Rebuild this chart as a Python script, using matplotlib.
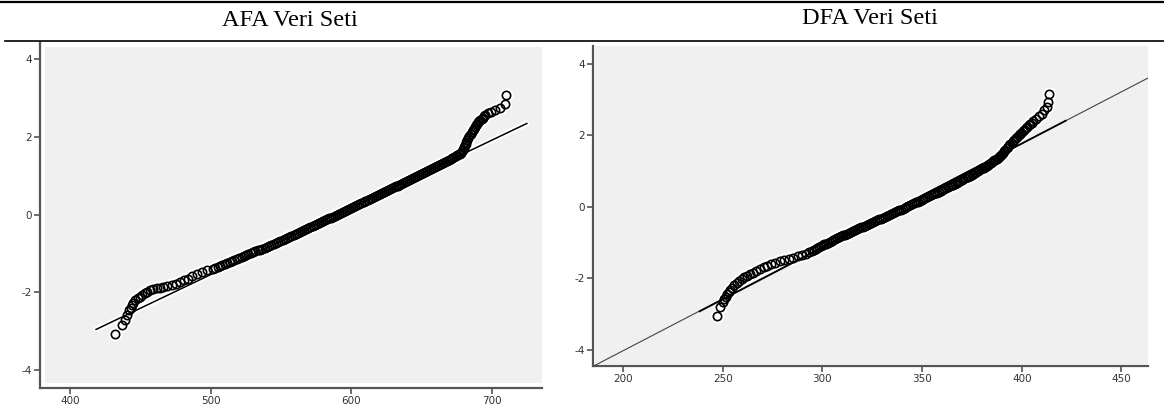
import matplotlib
matplotlib.use("Agg")
import matplotlib.pyplot as plt
from matplotlib.lines import Line2D
from matplotlib.patches import Rectangle

plt.rcParams['axes.unicode_minus'] = False

# ---------------- data ----------------
titles = ["AFA Veri Seti", "DFA Veri Seti"]

# AFA: observed values (x) and expected normal values (y)
afa_obs = [432.0, 436.7, 439.1, 440.7, 442.0, 443.0, 443.9, 445.0, 446.2, 448.0,
           449.8, 451.5, 453.3, 455.0, 456.9, 459.3, 461.7, 464.0, 466.4, 469.3,
           472.3, 475.3, 478.3, 481.2, 484.2, 487.1, 490.1, 493.6, 497.2,
           501.5, 503.2, 505.0, 506.7, 508.4, 510.1, 511.8, 513.5, 515.2, 516.9,
           518.6, 520.3, 522.0, 523.6, 525.3, 526.9, 528.6, 530.2, 531.9, 533.5,
           535.2, 536.8, 538.5, 540.1, 541.7, 543.3, 544.9, 546.5, 548.1, 549.7,
           551.3, 552.8, 554.4, 555.9, 557.5, 559.0, 560.6, 562.1, 563.6, 565.1,
           566.6, 568.1, 569.6, 571.0, 572.5, 574.0, 575.4, 576.9, 578.3, 579.8,
           581.2, 582.7, 584.1, 585.6, 587.0, 588.5, 589.9, 591.4, 592.8, 594.3,
           595.7, 597.2, 598.6, 600.1, 601.5, 603.0, 604.4, 605.9, 607.3, 608.8,
           610.2, 611.7, 613.1, 614.6, 616.0, 617.5, 618.9, 620.4, 621.8, 623.2,
           624.6, 626.0, 627.4, 628.8, 630.2, 631.6, 633.0, 634.4, 635.8, 637.2,
           638.6, 640.0, 641.4, 642.8, 644.2, 645.6, 647.0, 648.4, 649.8, 651.2,
           652.6, 654.0, 655.4, 656.8, 658.2, 659.6, 661.0, 662.4, 663.8, 665.2,
           666.6, 668.0, 669.4, 670.7, 672.0, 673.3, 674.5, 675.6, 676.6, 677.5,
           678.3,
           678.9, 679.5, 680.0, 680.5, 681.0, 681.5, 682.0, 682.5, 683.3, 684.2,
           685.1, 686.0, 686.6, 687.2, 687.8, 688.5, 689.2, 690.0, 691.0, 692.0,
           692.8, 693.7, 694.6, 695.5, 697.3, 699.2, 702.5, 706.0, 709.6, 710.5]
afa_exp = [-3.08, -2.85, -2.72, -2.59, -2.46, -2.40, -2.33, -2.27, -2.20, -2.16,
           -2.12, -2.07, -2.03, -1.99, -1.95, -1.92, -1.90, -1.88, -1.86, -1.84,
           -1.82, -1.78, -1.73, -1.69, -1.65, -1.58, -1.52, -1.48, -1.43,
           -1.400, -1.375, -1.350, -1.325, -1.300, -1.275, -1.250, -1.225, -1.200, -1.175,
           -1.150, -1.125, -1.100, -1.075, -1.050, -1.025, -1.000, -0.975, -0.950, -0.925,
           -0.900, -0.875, -0.850, -0.825, -0.800, -0.775, -0.750, -0.725, -0.700, -0.675,
           -0.650, -0.625, -0.600, -0.575, -0.550, -0.525, -0.500, -0.475, -0.450, -0.425,
           -0.400, -0.375, -0.350, -0.325, -0.300, -0.275, -0.250, -0.225, -0.200, -0.175,
           -0.150, -0.125, -0.100, -0.075, -0.050, -0.025, 0.000, 0.025, 0.050, 0.075,
           0.100, 0.125, 0.150, 0.175, 0.200, 0.225, 0.250, 0.275, 0.300, 0.325,
           0.350, 0.375, 0.400, 0.425, 0.450, 0.475, 0.500, 0.525, 0.550, 0.575,
           0.600, 0.625, 0.650, 0.675, 0.700, 0.725, 0.750, 0.775, 0.800, 0.825,
           0.850, 0.875, 0.900, 0.925, 0.950, 0.975, 1.000, 1.025, 1.050, 1.075,
           1.100, 1.125, 1.150, 1.175, 1.200, 1.225, 1.250, 1.275, 1.300, 1.325,
           1.350, 1.375, 1.400, 1.425, 1.450, 1.475, 1.500, 1.525, 1.550, 1.575,
           1.600,
           1.635, 1.67, 1.71, 1.75, 1.79, 1.83, 1.875, 1.92, 1.97, 2.02,
           2.075, 2.13, 2.175, 2.22, 2.265, 2.31, 2.345, 2.38, 2.41, 2.44,
           2.47, 2.50, 2.53, 2.56, 2.61, 2.65, 2.69, 2.74, 2.84, 3.08]
afa_line_x = [418.5, 725.0]
afa_line_y = [-2.96, 2.35]

# DFA: observed values (x) and expected normal values (y)
dfa_obs = [247.3, 248.5, 250.0, 250.8, 251.5, 252.2, 253.0, 253.9, 254.8, 255.9,
           257.0, 258.2, 259.5, 260.7, 262.0, 263.5, 265.0, 266.7, 268.5, 270.5,
           272.5, 274.5, 276.5, 278.7, 281.0, 283.2, 285.5, 287.8, 290.0, 291.8,
           293.5, 294.7,
           295.8, 296.6, 297.5, 298.3, 299.2, 300.1, 301.0, 301.9, 302.8, 303.7,
           304.6, 305.5, 306.5, 307.4, 308.4, 309.3, 310.3, 311.2, 312.2, 313.2,
           314.2, 315.2, 316.2, 317.2, 318.2, 319.2, 320.2, 321.2, 322.2, 323.2,
           324.2, 325.2, 326.2, 327.2, 328.2, 329.2, 330.2, 331.2, 332.2, 333.2,
           334.2, 335.2, 336.2, 337.2, 338.2, 339.2, 340.2, 341.2, 342.2, 343.1,
           344.1, 345.0, 346.0, 346.9, 347.9, 348.8, 349.8, 350.7, 351.7, 352.6,
           353.6, 354.5, 355.5, 356.4, 357.4, 358.3, 359.3, 360.2, 361.2, 362.1,
           363.0, 363.9, 364.8, 365.6, 366.5, 367.3, 368.2, 369.0, 369.9, 370.7,
           371.6, 372.4, 373.2, 374.0, 374.8, 375.6, 376.4, 377.2, 378.0, 378.7,
           379.5, 380.2, 381.0, 381.7, 382.4, 383.1, 383.8, 384.4, 385.1, 385.7,
           386.3, 386.8, 387.4, 387.9, 388.4, 388.9, 389.4,
           390.0, 390.6, 391.2, 391.8, 392.4, 393.0, 393.6, 394.3, 394.9, 395.6,
           396.3, 397.0, 397.7, 398.4, 399.1, 399.8, 400.5, 401.3, 402.0, 402.8,
           403.5, 404.3, 405.0, 405.7, 407.2, 408.7, 410.1, 411.3, 412.5, 413.4,
           413.9]
dfa_exp = [-3.05, -2.81, -2.66, -2.59, -2.52, -2.45, -2.39, -2.32, -2.26, -2.19,
           -2.13, -2.07, -2.02, -1.97, -1.93, -1.88, -1.84, -1.79, -1.74, -1.69,
           -1.64, -1.60, -1.56, -1.52, -1.48, -1.45, -1.42, -1.38, -1.35, -1.31,
           -1.27, -1.235,
           -1.200, -1.175, -1.150, -1.125, -1.100, -1.075, -1.050, -1.025, -1.000, -0.975,
           -0.950, -0.925, -0.900, -0.875, -0.850, -0.825, -0.800, -0.775, -0.750, -0.725,
           -0.700, -0.675, -0.650, -0.625, -0.600, -0.575, -0.550, -0.525, -0.500, -0.475,
           -0.450, -0.425, -0.400, -0.375, -0.350, -0.325, -0.300, -0.275, -0.250, -0.225,
           -0.200, -0.175, -0.150, -0.125, -0.100, -0.075, -0.050, -0.025, 0.000, 0.025,
           0.050, 0.075, 0.100, 0.125, 0.150, 0.175, 0.200, 0.225, 0.250, 0.275,
           0.300, 0.325, 0.350, 0.375, 0.400, 0.425, 0.450, 0.475, 0.500, 0.525,
           0.550, 0.575, 0.600, 0.625, 0.650, 0.675, 0.700, 0.725, 0.750, 0.775,
           0.800, 0.825, 0.850, 0.875, 0.900, 0.925, 0.950, 0.975, 1.000, 1.025,
           1.050, 1.075, 1.100, 1.125, 1.150, 1.175, 1.200, 1.225, 1.250, 1.275,
           1.300, 1.325, 1.350, 1.375, 1.400, 1.425, 1.450,
           1.49, 1.52, 1.56, 1.60, 1.64, 1.68, 1.72, 1.76, 1.80, 1.84,
           1.88, 1.92, 1.96, 2.00, 2.04, 2.08, 2.12, 2.16, 2.20, 2.24,
           2.28, 2.32, 2.36, 2.40, 2.47, 2.54, 2.61, 2.70, 2.80, 2.94,
           3.17]
dfa_line_full_x = [185.0, 463.5]
dfa_line_full_y = [-4.46, 3.61]
dfa_line_x = [238.5, 422.0]
dfa_line_y = [-2.92, 2.41]

afa_xticks = [400, 500, 600, 700]
dfa_xticks = [200, 250, 300, 350, 400, 450]
yticks = [-4, -2, 0, 2, 4]

# ---------------- figure ----------------
W, H = 1164, 409
fig = plt.figure(figsize=(W / 100, H / 100), dpi=100, facecolor='white')


def box(l, r, t, b):
    return [l / W, 1 - b / H, (r - l) / W, (b - t) / H]


ax1 = fig.add_axes(box(40, 542, 42, 388))
ax2 = fig.add_axes(box(593, 1148, 46, 366))

GRAY = '#f0f0f0'
SP = '#555555'


def style(ax, xlim, ylim, xticks, inset):
    ax.set_facecolor('white')
    ax.set_xlim(*xlim)
    ax.set_ylim(*ylim)
    ax.add_patch(Rectangle((inset[0], inset[1]), 1 - inset[0] - inset[2],
                           1 - inset[1] - inset[3], transform=ax.transAxes,
                           facecolor=GRAY, edgecolor='none', zorder=0))
    for s in ['top', 'right']:
        ax.spines[s].set_visible(False)
    for s in ['left', 'bottom']:
        ax.spines[s].set_color(SP)
        ax.spines[s].set_linewidth(1.6)
    ax.set_xticks(xticks)
    ax.set_yticks(yticks)
    ax.tick_params(axis='both', direction='out', length=4, width=1.2,
                   color=SP, labelsize=7.5, labelcolor='#333333', pad=2)


style(ax1, (378.6, 735.8), (-4.47, 4.45), afa_xticks, (0.01, 0.014, 0.0, 0.015))
style(ax2, (185.0, 463.3), (-4.45, 4.5), dfa_xticks, (0.004, 0.006, 0.0, 0.0))

MS = 6.0
MEW = 1.2

# AFA
ax1.plot(afa_obs, afa_exp, 'o', ms=MS, mfc='white', mec='white', mew=4, zorder=2)
ax1.plot(afa_line_x, afa_line_y, color='white', lw=4, zorder=2,
         solid_capstyle='round')
ax1.plot(afa_line_x, afa_line_y, color='black', lw=1.1, zorder=3)
ax1.plot(afa_obs, afa_exp, 'o', ms=MS, mfc='none', mec='black', mew=MEW, zorder=4)

# DFA
ax2.plot(dfa_obs, dfa_exp, 'o', ms=MS, mfc='white', mec='white', mew=4, zorder=2)
ax2.plot(dfa_line_full_x, dfa_line_full_y, color='#444444', lw=0.8, zorder=3)
ax2.plot(dfa_line_x, dfa_line_y, color='black', lw=1.3, zorder=3)
ax2.plot(dfa_obs, dfa_exp, 'o', ms=MS, mfc='none', mec='black', mew=MEW, zorder=4)

# Titles and table rules
fig.text(290 / W, 1 - 20 / H, titles[0], ha='center', va='center',
         fontsize=17.5, family='Liberation Serif', color='black')
fig.text(870 / W, 1 - 18 / H, titles[1], ha='center', va='center',
         fontsize=17.5, family='Liberation Serif', color='black')
fig.add_artist(Line2D([0, 1], [1 - 1.5 / H, 1 - 1.5 / H], color='black', lw=1.6))
fig.add_artist(Line2D([5 / W, 1], [1 - 41 / H, 1 - 41 / H], color='black', lw=1.2))

fig.savefig('out.png', dpi=100, facecolor='white')
